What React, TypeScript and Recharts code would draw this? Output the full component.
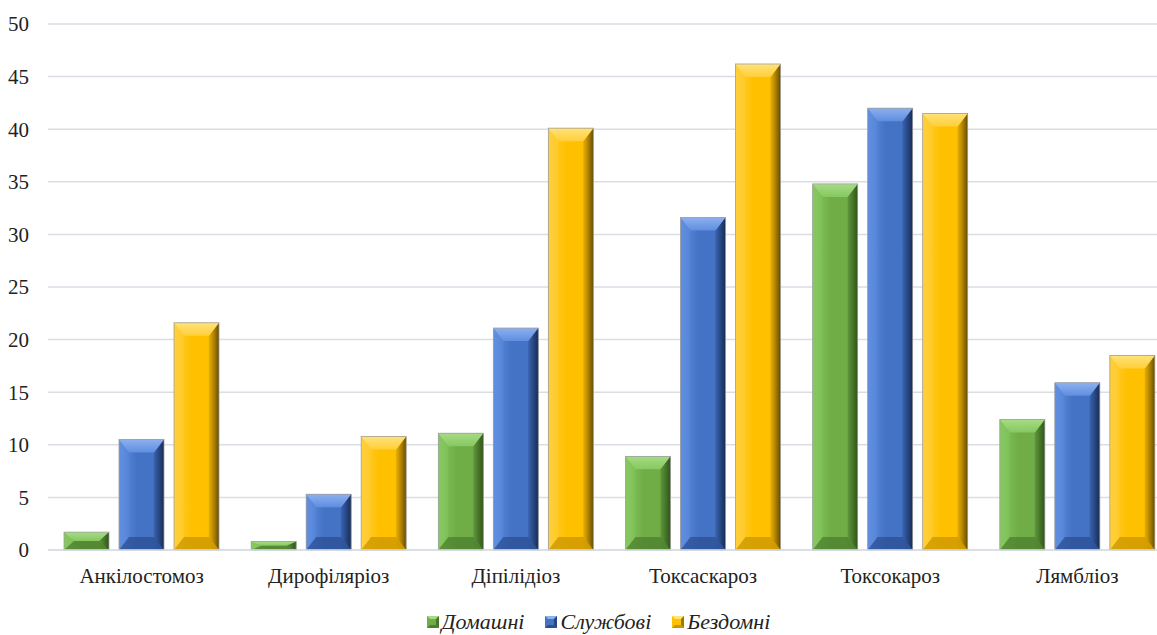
import React from 'react';
import { BarChart, Bar, XAxis, YAxis, CartesianGrid, Legend } from 'recharts';

const categories = ['Анкілостомоз', 'Дирофіляріоз', 'Діпілідіоз', 'Токсаскароз', 'Токсокароз', 'Лямбліоз'];
const homeValues = [1.7, 0.8, 11.1, 8.9, 34.8, 12.4];
const serviceValues = [10.5, 5.3, 21.1, 31.6, 42.0, 15.9];
const strayValues = [21.6, 10.8, 40.1, 46.2, 41.5, 18.5];
const yTicks = [0, 5, 10, 15, 20, 25, 30, 35, 40, 45, 50];
const seriesNames = ['Домашні', 'Службові', 'Бездомні'];

const data = categories.map((c, i) => ({
  name: c,
  home: homeValues[i],
  service: serviceValues[i],
  stray: strayValues[i],
}));

const FONT = '"Liberation Serif", "Times New Roman", serif';

type Pal = { id: string; light: string; lighter: string; base: string; dark: string; darker: string };
const palettes: Pal[] = [
  { id: 'g', lighter: '#a6dc85', light: '#86c860', base: '#70AD47', dark: '#4c7f2e', darker: '#2f5219' },
  { id: 'b', lighter: '#8db0ee', light: '#5f8ee0', base: '#4472C4', dark: '#2b4f93', darker: '#16294f' },
  { id: 'y', lighter: '#ffe27a', light: '#ffcf3a', base: '#FFC000', dark: '#c99600', darker: '#5e4600' },
];

const makeShape = (p: Pal) => (props: any) => {
  const { x, y, width: w, height: h } = props;
  if (!h || h <= 0) return <g />;
  const b = Math.min(13, h / 2, w / 2);
  const s = Math.min(10, w / 2);
  return (
    <g>
      <rect x={x} y={y} width={w} height={h} fill={`url(#face-${p.id})`} />
      <polygon points={`${x},${y} ${x + s},${y + b} ${x + s},${y + h - b} ${x},${y + h}`} fill={`url(#left-${p.id})`} />
      <polygon points={`${x + w},${y} ${x + w - s},${y + b} ${x + w - s},${y + h - b} ${x + w},${y + h}`} fill={`url(#right-${p.id})`} />
      <polygon points={`${x},${y} ${x + w},${y} ${x + w - s},${y + b} ${x + s},${y + b}`} fill={`url(#top-${p.id})`} />
      <polygon points={`${x},${y + h} ${x + s},${y + h - b} ${x + w - s},${y + h - b} ${x + w},${y + h}`} fill={p.dark} opacity={0.75} />
      <rect x={x} y={y} width={w} height={h} fill="none" stroke="#a0a0a0" strokeWidth={0.8} />
    </g>
  );
};

const LegendContent = () => (
  <div style={{ display: 'flex', justifyContent: 'center', alignItems: 'flex-end', height: 45, fontFamily: FONT, fontStyle: 'italic', fontSize: 22, color: '#222', paddingLeft: 26 }}>
    {seriesNames.map((n, i) => {
      const p = palettes[i];
      return (
        <div key={n} style={{ display: 'flex', alignItems: 'center', marginLeft: i === 0 ? 0 : 21 }}>
          <svg width={12} height={12} style={{ marginRight: 3 }}>
            <rect x={0} y={0} width={12} height={12} fill={p.base} />
            <polygon points="0,0 12,0 9,3 3,3" fill={p.lighter} />
            <polygon points="12,0 12,12 9,9 9,3" fill={p.darker} opacity={0.6} />
            <polygon points="0,12 12,12 9,9 3,9" fill={p.dark} />
          </svg>
          <span>{n}</span>
        </div>
      );
    })}
  </div>
);

export default function App() {
  return (
    <div style={{ position: 'absolute', left: 0, top: 0, width: 1157, height: 635, overflow: 'hidden', background: '#fff', fontFamily: FONT }}>
      <BarChart width={1173} height={635} data={data} margin={{ top: 24, right: 2, bottom: 0, left: 0 }} barGap={10} barCategoryGap={16}>
        <defs>
          {palettes.map((p) => (
            <React.Fragment key={p.id}>
              <linearGradient id={`face-${p.id}`} x1="0" y1="0" x2="1" y2="0">
                <stop offset="0%" stopColor={p.light} />
                <stop offset="40%" stopColor={p.base} />
                <stop offset="75%" stopColor={p.base} />
                <stop offset="100%" stopColor={p.dark} />
              </linearGradient>
              <linearGradient id={`left-${p.id}`} x1="0" y1="0" x2="1" y2="0">
                <stop offset="0%" stopColor={p.light} stopOpacity={0.9} />
                <stop offset="100%" stopColor={p.light} stopOpacity={0.3} />
              </linearGradient>
              <linearGradient id={`right-${p.id}`} x1="0" y1="0" x2="1" y2="0">
                <stop offset="0%" stopColor={p.dark} stopOpacity={0.4} />
                <stop offset="100%" stopColor={p.darker} stopOpacity={0.95} />
              </linearGradient>
              <linearGradient id={`top-${p.id}`} x1="0" y1="0" x2="0" y2="1">
                <stop offset="0%" stopColor={p.lighter} />
                <stop offset="100%" stopColor={p.light} />
              </linearGradient>
            </React.Fragment>
          ))}
        </defs>
        <CartesianGrid vertical={false} stroke="#d9dde4" strokeWidth={1.5} />
        <XAxis dataKey="name" axisLine={{ stroke: '#d9dde4', strokeWidth: 1.5 }} tickLine={false} tickSize={0} tickMargin={18} height={40} interval={0}
          tick={{ fill: '#222', fontSize: 21, fontFamily: FONT }} />
        <YAxis domain={[0, 50]} ticks={yTicks} axisLine={false} tickLine={false} tickSize={0} tickMargin={19} width={48} interval={0}
          tick={{ fill: '#222', fontSize: 21, fontFamily: FONT }} />
        <Legend verticalAlign="bottom" height={45} content={<LegendContent />} />
        <Bar dataKey="home" name={seriesNames[0]} fill="#70AD47" isAnimationActive={false} shape={makeShape(palettes[0])} />
        <Bar dataKey="service" name={seriesNames[1]} fill="#4472C4" isAnimationActive={false} shape={makeShape(palettes[1])} />
        <Bar dataKey="stray" name={seriesNames[2]} fill="#FFC000" isAnimationActive={false} shape={makeShape(palettes[2])} />
      </BarChart>
    </div>
  );
}
